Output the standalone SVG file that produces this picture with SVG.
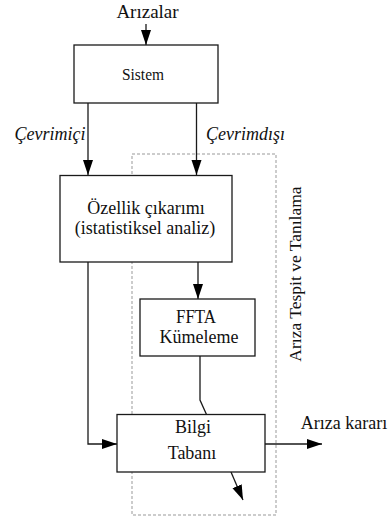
<svg xmlns="http://www.w3.org/2000/svg" width="391" height="516" viewBox="0 0 391 516">
<style>
.box{fill:#fff;stroke:#1a1a1a;stroke-width:1.3}
.ln{fill:none;stroke:#1a1a1a;stroke-width:1.3}
.t{font-family:"Liberation Serif","Times New Roman",serif;font-size:18px;fill:#111;text-anchor:middle}
.it{font-style:italic}
.dash{fill:none;stroke:#999;stroke-width:1;stroke-dasharray:3 2}
</style>
<defs>
<marker id="ah" markerUnits="userSpaceOnUse" markerWidth="16" markerHeight="12" refX="15" refY="5" orient="auto">
<path d="M0,0 L15,5 L0,10 Z" fill="#000"/>
</marker>
</defs>
<rect id="region" class="dash" x="132" y="154" width="144" height="361"/>
<text class="t" transform="translate(301,274) rotate(-90)" style="font-size:17.5px">Arıza Tespit ve Tanılama</text>
<g id="connectors">
<line class="ln" x1="146" y1="24" x2="146" y2="45" marker-end="url(#ah)"/>
<line class="ln" x1="88" y1="103" x2="88" y2="175" marker-end="url(#ah)"/>
<line class="ln" x1="196.5" y1="103" x2="196.5" y2="175" marker-end="url(#ah)"/>
<line class="ln" x1="198" y1="262" x2="198" y2="299" marker-end="url(#ah)"/>
<polyline class="ln" points="200,356 200,400 206.5,414.5"/>
<polyline class="ln" points="88,262 88,444 117,444" marker-end="url(#ah)"/>
<line class="ln" x1="265" y1="444" x2="322" y2="444" marker-end="url(#ah)"/>
<line class="ln" x1="231" y1="472" x2="243" y2="500" marker-end="url(#ah)"/>
</g>
<text class="t" x="147.5" y="18" style="font-size:19px">Arızalar</text>
<text class="t it" x="50" y="140">Çevrimiçi</text>
<text class="t it" x="245.5" y="140">Çevrimdışı</text>
<text class="t" x="344" y="429">Arıza kararı</text>
<g id="sistem">
<rect class="box" x="74" y="45" width="144" height="58"/>
<text class="t" x="143" y="80" style="font-size:17.5px" textLength="42" lengthAdjust="spacingAndGlyphs">Sistem</text>
</g>
<g id="ozellik">
<rect class="box" x="60" y="175.5" width="172" height="86.5"/>
<text class="t" x="146" y="214">Özellik çıkarımı</text>
<text class="t" x="145" y="234">(istatistiksel analiz)</text>
</g>
<g id="ffta">
<rect class="box" x="140" y="299" width="115" height="57"/>
<text class="t" x="196" y="323" textLength="40" lengthAdjust="spacingAndGlyphs">FFTA</text>
<text class="t" x="199" y="343">Kümeleme</text>
</g>
<g id="bilgi">
<rect class="box" x="117" y="414.5" width="148" height="57.5"/>
<text class="t" x="193" y="433">Bilgi</text>
<text class="t" x="192" y="459">Tabanı</text>
</g>
</svg>
